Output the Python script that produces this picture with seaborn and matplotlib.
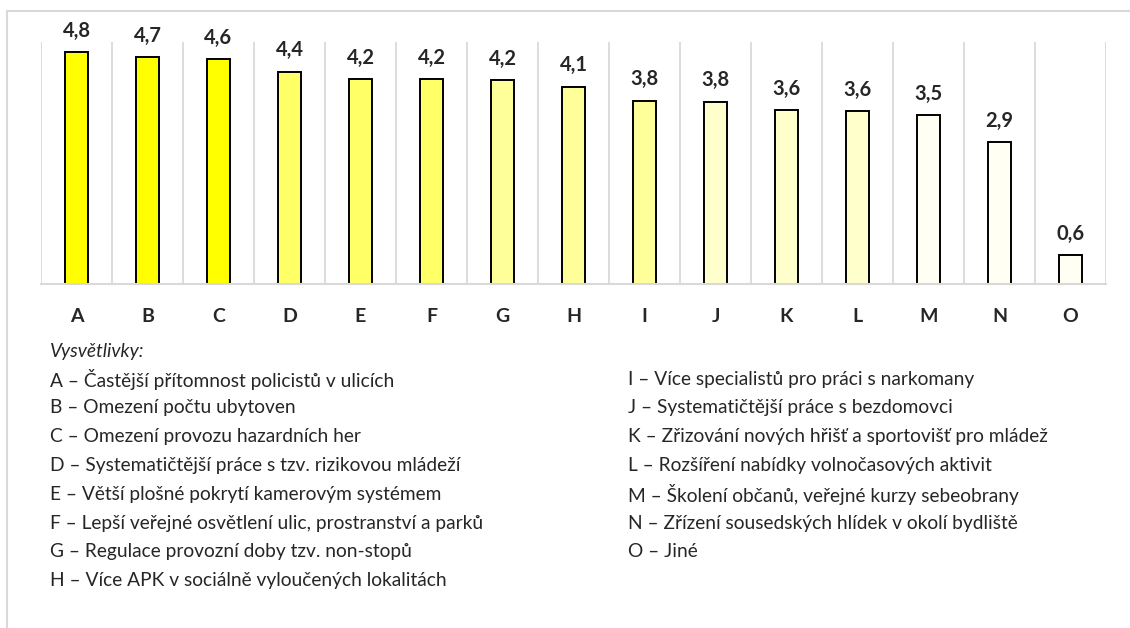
import matplotlib
matplotlib.use("Agg")
import matplotlib.pyplot as plt
import seaborn as sns
import pandas as pd
from matplotlib.lines import Line2D

# data
categories = ["A", "B", "C", "D", "E", "F", "G", "H", "I", "J", "K", "L", "M", "N", "O"]
values = [4.80, 4.68, 4.64, 4.39, 4.23, 4.23, 4.21, 4.08, 3.79, 3.77, 3.59, 3.57, 3.50, 2.93, 0.60]
bar_colors = ["#FFFF00", "#FFFF00", "#FFFF00",
              "#FFFF66", "#FFFF66", "#FFFF66",
              "#FFFF99", "#FFFF99", "#FFFF99",
              "#FFFFCC", "#FFFFCC", "#FFFFCC",
              "#FFFFF3", "#FFFFF3", "#FFFFF3"]
legend_left = ["A – Častější přítomnost policistů v ulicích",
               "B – Omezení počtu ubytoven",
               "C – Omezení provozu hazardních her",
               "D – Systematičtější práce s tzv. rizikovou mládeží",
               "E – Větší plošné pokrytí kamerovým systémem",
               "F – Lepší veřejné osvětlení ulic, prostranství a parků",
               "G – Regulace provozní doby tzv. non-stopů",
               "H – Více APK v sociálně vyloučených lokalitách"]
legend_right = ["I – Více specialistů pro práci s narkomany",
                "J – Systematičtější práce s bezdomovci",
                "K – Zřizování nových hřišť a sportovišť pro mládež",
                "L – Rozšíření nabídky volnočasových aktivit",
                "M – Školení občanů, veřejné kurzy sebeobrany",
                "N – Zřízení sousedských hlídek v okolí bydliště",
                "O – Jiné"]

df = pd.DataFrame({"cat": categories, "val": values})

sns.set_style("white")
plt.rcParams["font.family"] = ["Lato", "DejaVu Sans"]

fig = plt.figure(figsize=(11.3, 6.28), dpi=100)
ax = fig.add_axes([41/1130, 1-284/628, (1106-41)/1130, (284-42)/628])

sns.barplot(data=df, x="cat", y="val", hue="cat", palette=bar_colors,
            saturation=1, legend=False, width=0.31, edgecolor="black",
            linewidth=1.4, ax=ax)

ax.set_xlim(-0.5, len(categories)-0.5)
ax.set_ylim(0, 5)
ax.set_xlabel("")
ax.set_ylabel("")
ax.set_yticks([])

# vertical separators between categories
for b in range(len(categories)+1):
    ax.axvline(b-0.5, color="#D9D9D9", lw=1.3, zorder=0)

for s in ["top", "right", "left"]:
    ax.spines[s].set_visible(False)
ax.spines["bottom"].set_color("#D9D9D9")
ax.spines["bottom"].set_linewidth(1.5)

ax.tick_params(axis="x", length=0, pad=17)
for t in ax.get_xticklabels():
    t.set_fontweight("bold")
    t.set_fontsize(14)

for cont in ax.containers:
    labs = [f"{b.get_height():.1f}".replace(".", ",") for b in cont]
    ax.bar_label(cont, labels=labs, padding=8, fontsize=14.5, fontweight="bold")

# legend text below the chart
fs = 13.8
fig.text(50/1130, 1-352/628, "Vysvětlivky:", fontsize=fs, style="italic",
         va="center", ha="left")
for i, s in enumerate(legend_left):
    fig.text(50/1130, 1-(379+28.8*i)/628, s, fontsize=fs, va="center", ha="left")
for i, s in enumerate(legend_right):
    fig.text(628/1130, 1-(379+28.8*i)/628, s, fontsize=fs, va="center", ha="left")

# outer frame (top and left edges)
fig.add_artist(Line2D([7/1130, 1], [1-11/628, 1-11/628], color="#D9D9D9", lw=1.5))
fig.add_artist(Line2D([7/1130, 7/1130], [0, 1-11/628], color="#D9D9D9", lw=1.5))

fig.savefig("out.png", dpi=100)
